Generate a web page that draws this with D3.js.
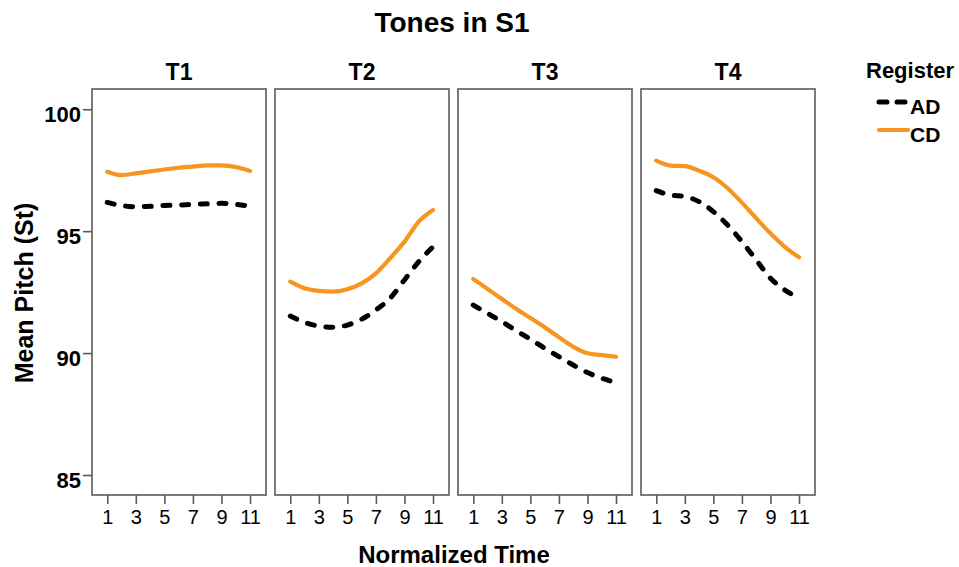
<!DOCTYPE html>
<html>
<head>
<meta charset="utf-8">
<script src="https://cdn.jsdelivr.net/npm/d3@7"></script>
<style>
  html, body { margin: 0; padding: 0; background: #fff; }
  svg { display: block; }
  text { font-family: "Liberation Sans", Arial, sans-serif; fill: #000; }
</style>
</head>
<body>
<svg id="chart" width="959" height="567"></svg>
<script>
// ---------------- data ----------------
const tones = ["T1", "T2", "T3", "T4"];
const timePoints = [1, 2, 3, 4, 5, 6, 7, 8, 9, 10, 11];
const xTickValues = [1, 3, 5, 7, 9, 11];
const yTickValues = [85, 90, 95, 100];
const registers = ["AD", "CD"];

const adT1 = [96.18, 96.05, 96.0, 96.02, 96.05, 96.07, 96.1, 96.12, 96.14, 96.1, 96.02];
const cdT1 = [97.44, 97.3, 97.37, 97.45, 97.53, 97.6, 97.65, 97.7, 97.7, 97.63, 97.47];
const adT2 = [91.52, 91.26, 91.11, 91.06, 91.15, 91.39, 91.77, 92.25, 93.0, 93.75, 94.36];
const cdT2 = [92.93, 92.66, 92.55, 92.52, 92.62, 92.86, 93.27, 93.89, 94.57, 95.39, 95.87];
const adT3 = [91.97, 91.63, 91.29, 90.92, 90.57, 90.2, 89.85, 89.51, 89.2, 88.97, 88.79];
const cdT3 = [93.04, 92.63, 92.22, 91.82, 91.44, 91.06, 90.65, 90.26, 89.99, 89.92, 89.85];
const adT4 = [96.66, 96.48, 96.42, 96.21, 95.8, 95.25, 94.57, 93.82, 93.07, 92.59, 92.25];
const cdT4 = [97.89, 97.69, 97.67, 97.48, 97.21, 96.76, 96.17, 95.53, 94.91, 94.36, 93.93];

const adSeries = [adT1, adT2, adT3, adT4];
const cdSeries = [cdT1, cdT2, cdT3, cdT4];

// ---------------- layout ----------------
const svg = d3.select("#chart");
const panelLefts = [92, 275, 458, 641];
const panelW = 174;
const plotTop = 89, plotBottom = 495;

const orange = "#f7961e";
const borderColor = "#5a5a5a";

const y = d3.scaleLinear().domain([84.18, 100.83]).range([plotBottom, plotTop]);
const xLocal = d3.scaleLinear().domain([-0.07, 12.12]).range([0, panelW]);

const styles = {
  AD: { stroke: "#000", width: 5, dash: "7,11.7", cap: "round" },
  CD: { stroke: orange, width: 4.2, dash: null, cap: "round" }
};

// title
svg.append("text").attr("x", 452).attr("y", 32).attr("text-anchor", "middle")
  .style("font-size", "28px").style("font-weight", "bold").text("Tones in S1");

tones.forEach((tone, i) => {
  const g = svg.append("g").attr("transform", `translate(${panelLefts[i]},0)`);

  g.append("text").attr("x", panelW / 2).attr("y", 80).attr("text-anchor", "middle")
    .style("font-size", "23px").style("font-weight", "bold").text(tone);

  g.append("rect").attr("x", 0).attr("y", plotTop).attr("width", panelW).attr("height", plotBottom - plotTop)
    .attr("fill", "#fff").attr("stroke", borderColor).attr("stroke-width", 1.6);

  const xAxis = d3.axisBottom(xLocal).tickValues(xTickValues).tickSize(9).tickPadding(6)
    .tickFormat(d3.format("d"));
  const ax = g.append("g").attr("transform", `translate(0,${plotBottom})`).call(xAxis);
  ax.select(".domain").remove();
  ax.selectAll(".tick line").attr("stroke", borderColor).attr("stroke-width", 1.6);
  ax.selectAll(".tick text").style("font-size", "20px").style("font-family", "Liberation Sans, Arial, sans-serif")
    .attr("fill", "#000");

  const line = d3.line().x((d, k) => xLocal(timePoints[k])).y(d => y(d)).curve(d3.curveMonotoneX);
  [["CD", cdSeries[i]], ["AD", adSeries[i]]].forEach(([reg, vals]) => {
    const s = styles[reg];
    g.append("path").datum(vals).attr("d", line).attr("fill", "none")
      .attr("stroke", s.stroke).attr("stroke-width", s.width)
      .attr("stroke-linecap", s.cap).attr("stroke-linejoin", "round")
      .attr("stroke-dasharray", s.dash);
  });
});

const yAxis = d3.axisLeft(y).tickValues(yTickValues).tickSize(9).tickPadding(2);
const ay = svg.append("g").attr("transform", `translate(${panelLefts[0]},0)`).call(yAxis);
ay.select(".domain").remove();
ay.selectAll(".tick line").attr("stroke", borderColor).attr("stroke-width", 1.6);
ay.selectAll(".tick text").style("font-size", "22px").style("font-weight", "bold")
  .style("font-family", "Liberation Sans, Arial, sans-serif").attr("fill", "#000").attr("dy", "0.55em");

svg.append("text").attr("x", 454).attr("y", 563).attr("text-anchor", "middle")
  .style("font-size", "24px").style("font-weight", "bold").text("Normalized Time");
svg.append("text").attr("transform", "translate(33,293) rotate(-90)").attr("text-anchor", "middle")
  .style("font-size", "25px").style("font-weight", "bold").text("Mean Pitch (St)");

const lg = svg.append("g");
lg.append("text").attr("x", 866).attr("y", 78).style("font-size", "22px").style("font-weight", "bold").text("Register");
registers.forEach((reg, k) => {
  const s = styles[reg];
  const yy = 102 + k * 28;
  lg.append("line").attr("x1", 879).attr("x2", 908).attr("y1", yy).attr("y2", yy)
    .attr("stroke", s.stroke).attr("stroke-width", s.width).attr("stroke-linecap", s.cap)
    .attr("stroke-dasharray", reg === "AD" ? "8,10" : null);
  lg.append("text").attr("x", 910).attr("y", yy + 11.5).style("font-size", "21px").style("font-weight", "bold").text(reg);
});
</script>
</body>
</html>
